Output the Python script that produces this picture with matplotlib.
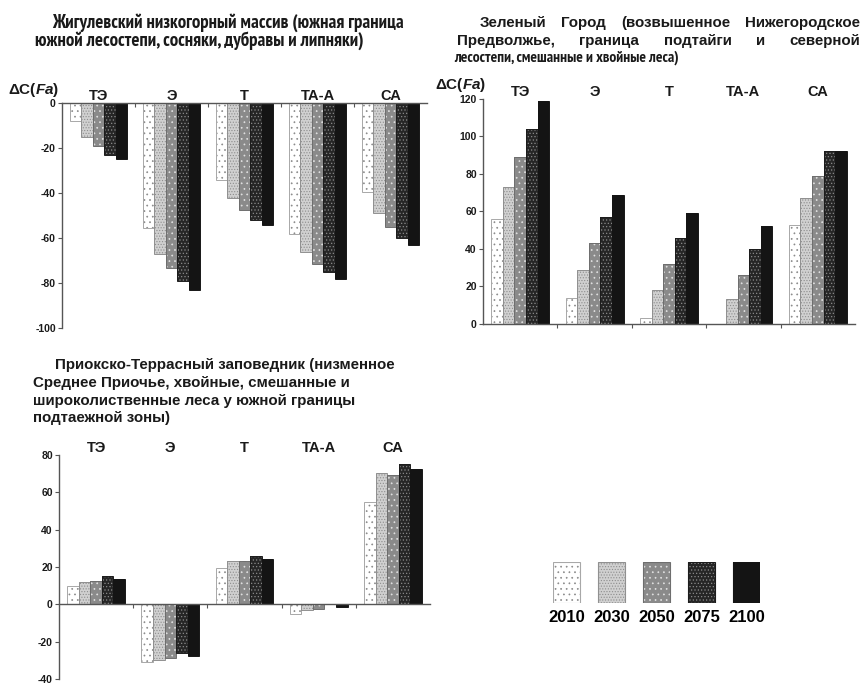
import numpy as np
import matplotlib
matplotlib.use('Agg')
import matplotlib.pyplot as plt
from matplotlib import font_manager
from matplotlib.ft2font import FT2Font
from matplotlib.ticker import MultipleLocator


categories = ['ТЭ', 'Э', 'Т', 'ТА-А', 'СА']
years = ['2010', '2030', '2050', '2075', '2100']

# rows follow years, columns follow categories
zhiguli = [
    [-8, -55.5, -34, -58, -39.5],
    [-15, -67, -42, -66, -49],
    [-19, -73.5, -47.5, -71.5, -55],
    [-23, -79, -52, -75, -60],
    [-25, -83, -54, -78, -63],
]
zeleny = [
    [56, 14, 3, 0, 53],
    [73, 29, 18, 13.5, 67],
    [89, 43, 32, 26, 79],
    [104, 57, 46, 40, 92.5],
    [119, 69, 59, 52.5, 92.5],
]
prioksko = [
    [10, -31, 19.5, -5, 55],
    [12, -30, 23, -3, 70.5],
    [12.5, -29, 23, -2.5, 69.5],
    [15, -26, 26, 0, 75],
    [13.5, -27.5, 24.5, -1.5, 72.5],
]

title_zhiguli = ['Жигулевский низкогорный массив (южная граница',
                 'южной лесостепи, сосняки, дубравы и липняки)']
title_zeleny = ['Зеленый Город (возвышенное Нижегородское',
                'Предволжье, граница подтайги и северной',
                'лесостепи, смешанные и хвойные леса)']
title_prioksko = ['Приокско-Террасный заповедник (низменное',
                  'Среднее Приочье, хвойные, смешанные и',
                  'широколиственные леса у южной границы',
                  'подтаежной зоны)']
ylabel = r'ΔC($\mathbf{\it{Fa}}$)'

# fill, hatch, hatch colour, outline for each year
styles = [
    ('white', '...', '#8a8a8a', '#a8a8a8'),
    ('#d0d0d0', '......', '#8e8e8e', '#909090'),
    ('#8a8a8a', '...', '#e2e2e2', '#6e6e6e'),
    ('#262626', '.....', '#8a8a8a', '#1c1c1c'),
    ('#141414', '', '#141414', '#141414'),
]

TXT = '#1a1a1a'
AX = '#555555'
plt.rcParams['font.family'] = ['Liberation Sans', 'DejaVu Sans']
plt.rcParams['hatch.linewidth'] = 0.5
plt.rcParams['text.color'] = TXT
plt.rcParams['axes.unicode_minus'] = False
plt.rcParams['mathtext.fontset'] = 'custom'
plt.rcParams['mathtext.it'] = 'Liberation Sans:italic:bold'
plt.rcParams['mathtext.bf'] = 'Liberation Sans:bold'


def condensed_family():
    for name in ['PT Sans Narrow', 'Roboto Condensed', 'Fira Sans Condensed',
                 'IBM Plex Sans Condensed', 'Ubuntu Condensed', 'Open Sans Condensed',
                 'Liberation Sans Narrow', 'Arial Narrow']:
        try:
            path = font_manager.findfont(font_manager.FontProperties(family=name, weight='bold'),
                                         fallback_to_default=False)
        except ValueError:
            continue
        if ord('Ж') in FT2Font(path).get_charmap():
            return [name, 'Liberation Sans', 'DejaVu Sans']
    return ['Liberation Sans', 'DejaVu Sans']


narrow = condensed_family()
reg = ['Liberation Sans', 'DejaVu Sans']

W, H = 863, 684
fig = plt.figure(figsize=(W / 100, H / 100), dpi=100)
renderer = fig.canvas.get_renderer()


def width_of(s, **kw):
    t = fig.text(0, 0, s, **kw)
    w = t.get_window_extent(renderer).width
    t.remove()
    return w


def fit_size(s, target, family, size=10, cap=None):
    fs = size * target / width_of(s, family=family, fontsize=size, fontweight='bold')
    return min(fs, cap) if cap else fs


def line(s, x0, y, size, family, x1=None):
    kw = dict(family=family, fontsize=size, fontweight='bold', va='center', ha='left')
    if x1 is None:
        fig.text(x0 / W, 1 - y / H, s, **kw)
        return
    words = s.split()
    ws = [width_of(w, **kw) for w in words]
    gap = (x1 - x0 - sum(ws)) / (len(words) - 1)
    x = x0
    for w, wd in zip(words, ws):
        fig.text(x / W, 1 - y / H, w, **kw)
        x += wd + gap


def panel(rect, values, ylim, step):
    ax = fig.add_axes([rect[0] / W, 1 - rect[3] / H,
                       (rect[2] - rect[0]) / W, (rect[3] - rect[1]) / H])
    x = np.arange(len(categories))
    bw = 0.156
    for i, (vals, (face, hatch, hcol, edge)) in enumerate(zip(values, styles)):
        pos = x + (i - 2) * bw
        ax.bar(pos, vals, bw, color=face, hatch=hatch, edgecolor=hcol, linewidth=0)
        ax.bar(pos, vals, bw, fill=False, edgecolor=edge, linewidth=0.7)
    ax.set_xlim(-0.5, 4.5)
    ax.set_ylim(*ylim)
    ax.yaxis.set_major_locator(MultipleLocator(step))
    for s in ('top', 'right'):
        ax.spines[s].set_visible(False)
    ax.spines['bottom'].set_position(('data', 0))
    for s in ('bottom', 'left'):
        ax.spines[s].set_color(AX)
        ax.spines[s].set_linewidth(1.0)
    ax.set_xticks(x[:-1] + 0.5)
    ax.set_xticklabels([])
    ax.tick_params(axis='x', direction='out', length=3, width=0.8, color=AX)
    ax.tick_params(axis='y', direction='out', length=3, width=0.8, color=AX,
                   labelsize=7.5, pad=1.5, labelcolor=TXT)
    for lab in ax.get_yticklabels():
        lab.set_fontweight('bold')
    for xi, c in zip(x, categories):
        ax.annotate(c, xy=(xi, 1), xycoords=('data', 'axes fraction'),
                    xytext=(0, 2.5), textcoords='offset points',
                    ha='center', va='baseline', fontsize=10.5, fontweight='bold')
    return ax


panel((62, 103, 427, 328), zhiguli, (-100, 0), 20)
panel((483, 99, 855, 324), zeleny, (0, 120), 20)
panel((59, 455, 430, 679), prioksko, (-40, 80), 20)

fig.text(8 / W, 1 - 90 / H, ylabel, fontsize=11, fontweight='bold', va='center', ha='left')
fig.text(435 / W, 1 - 85 / H, ylabel, fontsize=11, fontweight='bold', va='center', ha='left')

# titles
fs_r = fit_size(title_prioksko[0], 340, reg)
fs_n = fit_size(title_zhiguli[0], 384, narrow, cap=fs_r * 1.25)
line(title_zhiguli[0], 52, 23, fs_n, narrow)
line(title_zhiguli[1], 35, 41, fs_n, narrow)

line(title_zeleny[0], 480, 23, fs_r, reg, x1=860)
line(title_zeleny[1], 457, 41, fs_r, reg, x1=860)
line(title_zeleny[2], 454, 58, fit_size(title_zeleny[2], 226, narrow, cap=fs_n), narrow)

line(title_prioksko[0], 55, 365, fs_r, reg)
for k, s in enumerate(title_prioksko[1:]):
    line(s, 33, 383 + 17.7 * k, fs_r, reg)

# year key
lg = fig.add_axes([553 / W, 1 - 603 / H, 207 / W, 41 / H])
for i, (face, hatch, hcol, edge) in enumerate(styles):
    lg.bar(i, 1, 0.6, color=face, hatch=hatch, edgecolor=hcol, linewidth=0)
    lg.bar(i, 1, 0.6, fill=False, edgecolor=edge, linewidth=0.8)
lg.set_xlim(-0.3, 4.3)
lg.set_ylim(0, 1)
lg.set_xticks(range(len(years)))
lg.set_xticklabels(years, fontsize=12, fontweight='bold')
lg.tick_params(axis='x', length=0, pad=5)
lg.set_yticks([])
for s in lg.spines.values():
    s.set_visible(False)

fig.savefig('out.png', dpi=100, facecolor='white')
